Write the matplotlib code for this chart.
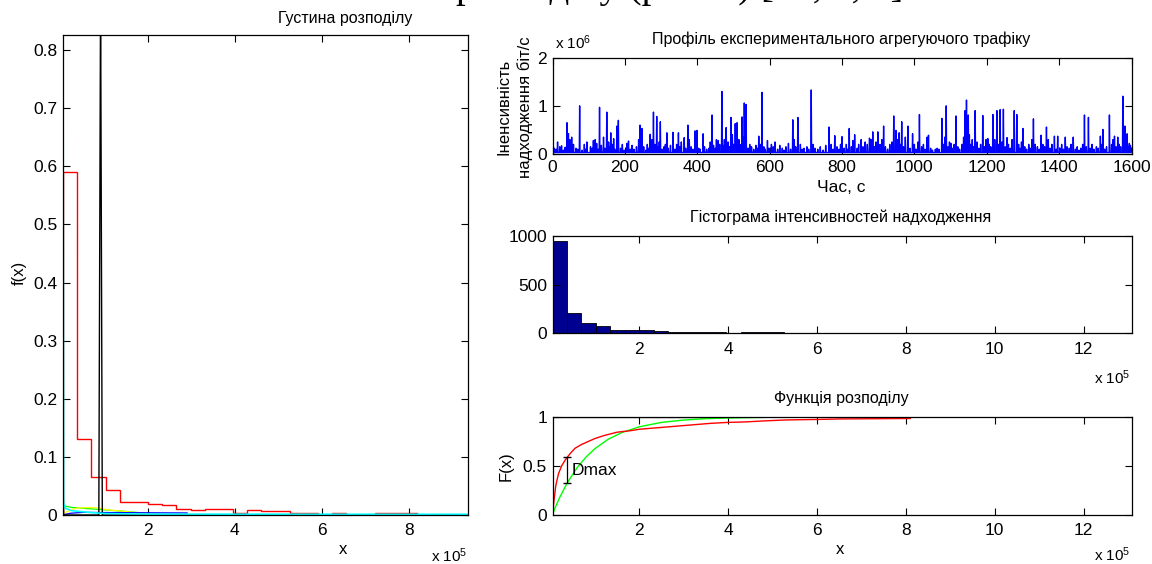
import numpy as np
import matplotlib
matplotlib.use("Agg")
import matplotlib.pyplot as plt

plt.rcParams["font.family"] = ["Liberation Sans", "DejaVu Sans"]
plt.rcParams["mathtext.fontset"] = "custom"
plt.rcParams["mathtext.rm"] = "Liberation Sans"
plt.rcParams["mathtext.default"] = "regular"

W, H = 1152, 564

# ─────────────────────────────────────────────
# Data (intensities in units of 1e5 bit/s, traffic in 1e6 bit/s)
# ─────────────────────────────────────────────
N_SAMPLES = 1600
X_MIN, X_MAX = 0.046, 13.08
hist_counts = [944, 208, 104, 70, 37, 35, 30, 27, 16, 13,
               16, 16, 5, 13, 11, 11, 6, 6, 0, 6,
               0, 0, 6, 6, 6, 0, 0, 0, 0, 0,
               0, 6, 0, 8, 0, 0, 8, 0, 8, 8]

# traffic profile: large spikes (time s, value x1e6)
spike_t = [14, 40, 44, 53, 75, 95, 118, 130, 141, 150,
           161, 169, 178, 182, 206, 210, 242, 247, 270, 279,
           288, 298, 316, 333, 348, 364, 374, 394, 399, 416,
           441, 458, 468, 480, 493, 505, 510, 524, 530, 535,
           570, 579, 594, 652, 664, 678, 715, 764, 780, 800,
           820, 835, 853, 876, 885, 899, 915, 943, 949, 958,
           965, 982, 995, 1014, 1035, 1039, 1076, 1088, 1101, 1115,
           1140, 1144, 1149, 1168, 1189, 1203, 1217, 1228, 1237, 1246,
           1256, 1276, 1283, 1300, 1329, 1350, 1365, 1387, 1396, 1417,
           1439, 1470, 1481, 1514, 1521, 1539, 1553, 1562, 1576, 1582,
           1588, 1594]
spike_v = [0.25, 0.65, 0.42, 0.35, 1.0, 0.25, 0.3, 0.97, 0.35, 0.87,
           0.44, 0.32, 0.58, 0.7, 0.22, 0.27, 0.6, 0.53, 0.41, 0.87,
           0.78, 0.67, 0.44, 0.45, 0.44, 0.34, 0.6, 0.48, 0.49, 0.42,
           0.81, 0.28, 1.3, 0.55, 0.76, 0.63, 0.65, 0.77, 1.06, 1.03,
           0.37, 1.28, 0.28, 0.22, 0.71, 0.76, 1.33, 0.56, 0.38, 0.36,
           0.53, 0.4, 0.3, 0.33, 0.46, 0.46, 0.58, 0.79, 0.49, 0.44,
           0.67, 0.58, 0.42, 0.82, 0.35, 0.39, 0.74, 1.0, 0.22, 0.79,
           0.9, 1.12, 0.81, 0.9, 0.8, 0.32, 0.82, 0.9, 0.92, 0.93,
           0.34, 0.9, 0.82, 0.53, 0.73, 0.39, 0.56, 0.37, 0.37, 0.35,
           0.35, 0.81, 0.76, 0.37, 0.51, 0.81, 0.37, 0.35, 1.2, 0.58,
           0.42, 0.22]
# small spikes ("grass") between the large ones
minor_t = [5, 10, 20, 25, 30, 35, 48, 58, 65, 70, 82, 88, 92,
           105, 110, 113, 122, 126, 135, 145, 155, 158, 165, 172, 188, 193, 198,
           215, 220, 225, 232, 238, 252, 258, 262, 266, 275, 283, 292, 295,
           303, 308, 312, 320, 326, 338, 343, 352, 356, 368, 378, 383, 388, 396,
           404, 408, 420, 426, 432, 436, 445, 450, 453, 462, 471, 475, 485, 489, 497, 500,
           515, 518, 527, 540, 545, 550, 556, 562, 566, 575, 584, 588, 598,
           605, 610, 615, 622, 628, 635, 640, 645, 658, 668, 672, 685, 690, 695,
           703, 708, 720, 725, 733, 740, 748, 755, 770, 775, 786, 792, 796,
           806, 812, 816, 826, 830, 842, 846, 858, 864, 870, 880, 890, 894,
           905, 910, 920, 926, 932, 938, 953, 962, 970, 975, 988, 1000,
           1005, 1010, 1020, 1025, 1030, 1045, 1050, 1058, 1063, 1068, 1080, 1084, 1093, 1097,
           1106, 1110, 1120, 1125, 1132, 1136, 1152, 1156, 1160, 1164, 1173, 1178, 1183, 1194, 1198,
           1207, 1211, 1222, 1232, 1242, 1251, 1260, 1265, 1270, 1288, 1292, 1296,
           1305, 1310, 1316, 1320, 1325, 1334, 1340, 1345, 1355, 1360, 1370, 1375, 1380, 1392,
           1402, 1407, 1412, 1422, 1428, 1433, 1445, 1450, 1455, 1460, 1465, 1475, 1486, 1491, 1496,
           1503, 1508, 1518, 1526, 1531, 1545, 1549, 1557, 1566, 1570, 1579, 1585, 1591, 1597, 1600]
minor_v = [0.12, 0.1, 0.15, 0.17, 0.08, 0.14, 0.3, 0.2, 0.12, 0.1, 0.08, 0.2, 0.1,
           0.15, 0.12, 0.28, 0.22, 0.1, 0.18, 0.12, 0.25, 0.15, 0.2, 0.1, 0.12, 0.2, 0.08,
           0.1, 0.18, 0.1, 0.15, 0.3, 0.15, 0.08, 0.2, 0.12, 0.3, 0.2, 0.15, 0.25,
           0.1, 0.15, 0.2, 0.12, 0.18, 0.1, 0.2, 0.15, 0.25, 0.12, 0.3, 0.15, 0.1, 0.2,
           0.12, 0.1, 0.15, 0.1, 0.12, 0.25, 0.18, 0.12, 0.3, 0.2, 0.18, 0.3, 0.25, 0.15, 0.4, 0.2,
           0.3, 0.2, 0.35, 0.12, 0.2, 0.15, 0.1, 0.18, 0.12, 0.2, 0.15, 0.1, 0.12,
           0.2, 0.15, 0.25, 0.1, 0.18, 0.12, 0.08, 0.15, 0.1, 0.3, 0.15, 0.2, 0.1, 0.12,
           0.15, 0.1, 0.2, 0.12, 0.1, 0.15, 0.08, 0.18, 0.2, 0.1, 0.15, 0.1, 0.2,
           0.12, 0.2, 0.1, 0.15, 0.28, 0.12, 0.2, 0.15, 0.25, 0.2, 0.3, 0.15, 0.25,
           0.2, 0.3, 0.15, 0.1, 0.2, 0.25, 0.3, 0.2, 0.15, 0.35, 0.12, 0.2,
           0.1, 0.25, 0.15, 0.2, 0.1, 0.12, 0.08, 0.1, 0.12, 0.1, 0.2, 0.35, 0.15, 0.25,
           0.12, 0.2, 0.15, 0.1, 0.2, 0.35, 0.4, 0.2, 0.3, 0.15, 0.25, 0.12, 0.2, 0.15, 0.3,
           0.2, 0.15, 0.3, 0.2, 0.25, 0.15, 0.2, 0.12, 0.3, 0.2, 0.12, 0.25,
           0.15, 0.1, 0.2, 0.12, 0.3, 0.2, 0.15, 0.1, 0.2, 0.15, 0.3, 0.12, 0.2, 0.1,
           0.12, 0.2, 0.1, 0.15, 0.12, 0.2, 0.1, 0.15, 0.08, 0.12, 0.2, 0.15, 0.12, 0.2, 0.1,
           0.15, 0.12, 0.2, 0.1, 0.15, 0.2, 0.3, 0.15, 0.2, 0.15, 0.4, 0.3, 0.15, 0.18, 0.12]
floor_v = 0.03

# density panel: fitted curves
cyan_x = [0.05, 0.05, 0.06, 0.1, 0.25, 0.64, 1.02, 2.0, 9.36]
cyan_y = [0.0, 0.655, 0.02, 0.0115, 0.0074, 0.0046, 0.0025, 0.0015, 0.0012]
green_x = [0.046, 0.25, 0.6, 0.9, 1.25, 1.5, 1.8]
green_y = [0.016, 0.013, 0.011, 0.0095, 0.0074, 0.006, 0.004]
yellow_x = [0.05, 0.33, 0.64, 0.87, 1.1, 1.33, 1.64, 2.02]
yellow_y = [0.003, 0.0115, 0.013, 0.012, 0.0086, 0.0074, 0.0046, 0.0022]
blue_x = [0.046, 0.22, 0.5, 1.5, 2.9]
blue_y = [0.0005, 0.003, 0.0045, 0.004, 0.0035]
black_x = [0.05, 0.06, 0.87, 0.91, 0.95, 6.0]
black_y = [0.045, 0.0, 0.0, 0.9, 0.0, 0.0]

# distribution functions
cdf_emp_x = [0.046, 0.08, 0.12, 0.18, 0.25, 0.33, 0.38, 0.45, 0.55, 0.7,
             0.85, 1.0, 1.2, 1.5, 1.8, 2.0, 2.4, 2.8, 3.2, 3.6,
             4.0, 4.4, 4.8, 5.3, 6.0, 6.5, 8.1]
cdf_emp_F = [0, 0.15, 0.3, 0.42, 0.5, 0.56, 0.59, 0.63, 0.68, 0.72,
             0.75, 0.78, 0.81, 0.845, 0.86, 0.875, 0.89, 0.905, 0.92, 0.935,
             0.945, 0.95, 0.96, 0.97, 0.975, 0.98, 0.985]
cdf_fit_x = [0.046, 0.1, 0.2, 0.38, 0.6, 0.8, 1.0, 1.3, 1.6, 2.0,
             2.5, 3.0, 3.5, 4.0, 5.0, 6.0, 8.0, 13.08]
cdf_fit_F = [0, 0.068, 0.172, 0.33, 0.483, 0.591, 0.677, 0.773, 0.84, 0.9,
             0.945, 0.969, 0.983, 0.99, 0.997, 0.999, 1.0, 1.0]
dmax_x, dmax_lo, dmax_hi = 0.38, 0.33, 0.59


# ─────────────────────────────────────────────
# Helpers
# ─────────────────────────────────────────────
def px(x, y):
    return x / W, 1 - y / H


def axes_px(left, top, right, bottom):
    return fig.add_axes([left / W, 1 - bottom / H, (right - left) / W, (bottom - top) / H])


def matlab_ticks(ax):
    ax.tick_params(direction="in", top=True, right=True, length=5,
                   width=0.8, labelsize=12.5, pad=4)
    for s in ax.spines.values():
        s.set_linewidth(0.9)


def label(x, y, s, **kw):
    fig.text(*px(x, y), s, ha="center", va="center", **kw)


# ─────────────────────────────────────────────
# Canvas
# ─────────────────────────────────────────────
fig = plt.figure(figsize=(W / 100, H / 100), dpi=100)
fig.patch.set_facecolor("white")

edges = np.linspace(X_MIN, X_MAX, len(hist_counts) + 1)
counts = np.array(hist_counts, dtype=float)

# cut-off caption line from the page above (only its lower edge shows)
fig.text(*px(456, -3), "розподілу (рис. 2) [12, 5, 7]",
         family="Liberation Serif", fontsize=28, ha="left", va="baseline")

# ─────────────────────────────────────────────
# Left: density
# ─────────────────────────────────────────────
ax1 = axes_px(63, 35, 468, 515)
ax1.stairs(counts / N_SAMPLES, edges, color="red", lw=1.0, baseline=0)
ax1.plot(green_x, green_y, color="#00FF00", lw=0.9)
ax1.plot(yellow_x, yellow_y, color="yellow", lw=0.9)
ax1.plot(blue_x, blue_y, color="blue", lw=0.9)
ax1.plot(black_x, black_y, color="black", lw=1.0)
ax1.plot(cyan_x, cyan_y, color="cyan", lw=1.2)
ax1.set_xlim(X_MIN, 9.36)
ax1.set_ylim(0, 0.826)
ax1.set_xticks([2, 4, 6, 8])
ax1.set_yticks(np.arange(0, 0.81, 0.1))
ax1.set_yticklabels(["0", "0.1", "0.2", "0.3", "0.4", "0.5", "0.6", "0.7", "0.8"])
matlab_ticks(ax1)
ax1.tick_params(axis="x", pad=6)
label(345, 19, "Густина розподілу", fontsize=11.5)
label(343, 550, "x", fontsize=12)
label(449, 556, r"x 10$^5$", fontsize=11)
label(19, 273, "f(x)", fontsize=12, rotation=90)

# ─────────────────────────────────────────────
# Top right: traffic profile
# ─────────────────────────────────────────────
t = np.arange(1, N_SAMPLES + 1)
traffic = np.full(N_SAMPLES, floor_v)
traffic[np.array(minor_t) - 1] = minor_v
traffic[np.array(spike_t) - 1] = spike_v

ax2 = axes_px(552.5, 57.7, 1131.5, 154)
ax2.plot(t, traffic, color="blue", lw=1.0)
ax2.set_xlim(0, 1600)
ax2.set_ylim(0, 2)
ax2.set_xticks(range(0, 1601, 200))
ax2.set_yticks([0, 1, 2])
matlab_ticks(ax2)
label(841, 39, "Профіль експериментального агрегуючого трафіку", fontsize=11.5)
label(841, 188, "Час, с", fontsize=12.5)
fig.text(*px(555, 43), r"x 10$^6$", fontsize=11, ha="left", va="center")
label(515, 107, "Іненсивність\nнадходження біт/с", fontsize=12, rotation=90,
      linespacing=1.45)

# ─────────────────────────────────────────────
# Middle right: histogram
# ─────────────────────────────────────────────
ax3 = axes_px(552.5, 236, 1131.5, 333.3)
ax3.bar(edges[:-1], counts, width=np.diff(edges), align="edge",
        color="#000090", edgecolor="black", lw=0.6)
ax3.set_xlim(X_MIN, X_MAX)
ax3.set_ylim(0, 1000)
ax3.set_xticks(range(2, 13, 2))
ax3.set_yticks([0, 500, 1000])
matlab_ticks(ax3)
ax3.tick_params(axis="x", pad=6)
label(841, 217, "Гістограма інтенсивностей надходження", fontsize=11.5)
label(1112, 378, r"x 10$^5$", fontsize=11)

# ─────────────────────────────────────────────
# Bottom right: distribution function
# ─────────────────────────────────────────────
ax4 = axes_px(552.5, 417, 1131.5, 515)
ax4.plot([X_MIN, 3.9], [1, 1], color="black", lw=1.6)
ax4.plot(cdf_fit_x, cdf_fit_F, color="#00FF00", lw=1.0)
ax4.plot(cdf_emp_x, cdf_emp_F, color="red", lw=1.0)
ax4.errorbar([dmax_x], [(dmax_lo + dmax_hi) / 2], yerr=[(dmax_hi - dmax_lo) / 2],
             color="black", lw=0.9, capsize=3)
ax4.text(dmax_x + 0.1, 0.45, "Dmax", fontsize=12.5, va="center")
ax4.set_xlim(X_MIN, X_MAX)
ax4.set_ylim(0, 1)
ax4.set_xticks(range(2, 13, 2))
ax4.set_yticks([0, 0.5, 1])
ax4.set_yticklabels(["0", "0.5", "1"])
matlab_ticks(ax4)
ax4.tick_params(axis="x", pad=6)
label(841, 398, "Функція розподілу", fontsize=11.5)
label(840, 550, "x", fontsize=12)
label(1112, 555, r"x 10$^5$", fontsize=11)
label(506, 466, "F(x)", fontsize=12, rotation=90)

fig.savefig("out.png", dpi=100, facecolor="white")
plt.close(fig)
